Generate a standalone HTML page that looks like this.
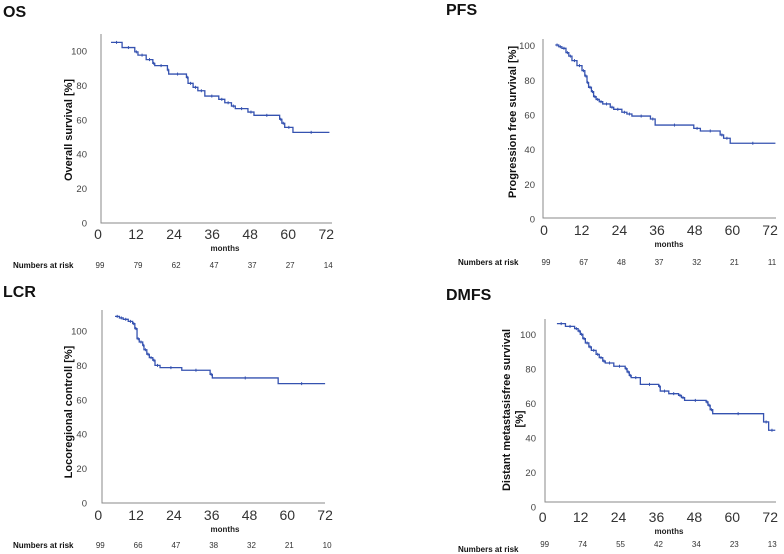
<!DOCTYPE html>
<html><head><meta charset="utf-8">
<style>
html,body{margin:0;padding:0;background:#fff;}
svg{display:block;font-family:"Liberation Sans",sans-serif;}
</style></head>
<body>
<svg id="fig" width="784" height="554" viewBox="0 0 784 554"></svg>
<script>
// ---- data (months, percent) ----
const xTicks = [0, 12, 24, 36, 48, 60, 72];
const yTicks = [0, 20, 40, 60, 80, 100];
const osMonths = [4.1, 7.6, 11.6, 12.6, 15.2, 17.3, 17.9, 21.9, 22.3, 27.9, 28.4, 30, 31.5, 33.7, 38.1, 40, 42.1, 43.3, 47.3, 49.2, 57.3, 58, 58.9, 61.5, 73];
const osValues = [105, 102, 99.5, 97.6, 95, 92.8, 91.5, 89, 86.6, 84.7, 81.2, 78.9, 76.9, 73.8, 71.9, 69.9, 68, 66.5, 64.5, 62.6, 60.3, 58, 55.6, 52.7, 52.7];
const osRisk = [99, 79, 62, 47, 37, 27, 14];
const pfsMonths = [3.6, 4.7, 5.7, 7.0, 7.9, 8.9, 10.5, 12.1, 13, 13.7, 14.2, 15.1, 15.8, 16.6, 17.6, 18.7, 21.1, 22.2, 24.8, 26.4, 28, 33.9, 35.4, 47.7, 49.8, 56.1, 57.2, 59.3, 73.7];
const pfsValues = [100.4, 99.4, 98.5, 96, 94, 91.4, 88.5, 85.6, 82.5, 78.7, 76, 73.5, 70.6, 69, 67.7, 66.4, 64.5, 63.3, 61.6, 60.6, 59.4, 57.7, 54.2, 52.3, 50.8, 48.5, 46.6, 43.7, 43.7];
const pfsRisk = [99, 67, 48, 37, 32, 21, 11];
const lcrMonths = [5.3, 6.7, 7.9, 9.5, 10.9, 11.6, 12.3, 13.0, 14.1, 14.5, 15.4, 16.2, 17.3, 18, 19.6, 26.5, 35.5, 36.2, 57.1, 72];
const lcrValues = [108.5, 107.6, 106.8, 105.6, 104.3, 101.4, 95.5, 93.6, 91.7, 89.1, 86.5, 84.5, 83, 80, 78.7, 77.2, 74.8, 72.7, 69.4, 69.4];
const lcrRisk = [99, 66, 47, 38, 32, 21, 10];
const dmfsMonths = [4.5, 7.2, 10.1, 11.2, 11.9, 12.7, 13.5, 14.6, 15.4, 16.9, 17.9, 19, 19.8, 22.5, 26.1, 26.7, 27.4, 28, 30.9, 36.7, 37.2, 39.9, 43, 43.9, 44.9, 51.7, 52.3, 53, 53.8, 69.9, 71.5, 73.6];
const dmfsValues = [106.3, 104.7, 103.4, 102, 100.1, 97.6, 95.1, 92.8, 90.8, 88.5, 86.6, 84.6, 83.5, 81.6, 80.2, 78.3, 76.3, 75, 71.1, 70, 67.2, 65.7, 64.7, 63.4, 61.8, 60.9, 59, 56.4, 54.1, 49.3, 44.5, 44.5];
const dmfsRisk = [99, 74, 55, 42, 34, 23, 13];

const NS = "http://www.w3.org/2000/svg";
const svg = document.getElementById("fig");
function mk(tag, attrs, parent, txt){
  const e = document.createElementNS(NS, tag);
  for (const k in attrs) e.setAttribute(k, attrs[k]);
  if (txt !== undefined) e.textContent = txt;
  (parent || svg).appendChild(e);
  return e;
}

function panel(cfg, months, values, risk){
  const g = mk("g", {});
  
  
  const X = m => cfg.x0 + m * cfg.xs;
  const Y = v => cfg.y0 - v * cfg.ys;

  const t = mk("text", {x: cfg.tx, y: cfg.ty, "font-size": 16, "font-weight": "bold", fill: "#111"}, g, cfg.title);
  
  

  const ax = mk("path", {d: `M${cfg.aL},${cfg.aT} L${cfg.aL},${cfg.aB} L${cfg.aR},${cfg.aB}`, fill: "none", stroke: "#8a8a8a", "stroke-width": 1}, g);
  
  

  yTicks.forEach(v => {
    const l = mk("text", {x: cfg.ylx, y: Y(v) + 3.5, "font-size": 9.5, "text-anchor": "end", fill: "#444"}, g, v);
    
    
  });
  xTicks.forEach(m => {
    const l = mk("text", {x: X(m), y: cfg.xly, "font-size": 14, "text-anchor": "middle", fill: "#333"}, g, m);
    
    
  });

  const mo = mk("text", {x: cfg.mx, y: cfg.my, "font-size": 8, "font-weight": "bold", "text-anchor": "middle", fill: "#222"}, g, "months");
  
  

  const yt = mk("text", {transform: `translate(${cfg.ytx},${cfg.yty}) rotate(-90)`, "font-size": 11, "font-weight": "bold", "text-anchor": "middle", fill: "#111"}, g, cfg.ytitle);
  
  
  if (cfg.ytitle2) {
    const yt2 = mk("text", {transform: `translate(${cfg.ytx2},${cfg.yty2}) rotate(-90)`, "font-size": 11, "font-weight": "bold", "text-anchor": "middle", fill: "#111"}, g, cfg.ytitle2);
    
    
  }

  const rl = mk("text", {x: cfg.rlx, y: cfg.rly, "font-size": 8, "font-weight": "bold", fill: "#111"}, g, "Numbers at risk");
  
  
  risk.forEach((n, i) => {
    const r = mk("text", {x: X(xTicks[i]) + 2, y: cfg.rny, "font-size": 8, "text-anchor": "middle", fill: "#333"}, g, n);
    
    
  });

  let d = `M${X(months[0])},${Y(values[0])}`;
  for (let i = 1; i < months.length; i++) {
    d += ` H${X(months[i])} V${Y(values[i])}`;
  }
  const line = mk("path", {d: d, fill: "none", stroke: "#3552b0", "stroke-width": 1.3}, g);
  
  
  for (let i = 0; i < months.length - 1; i++) {
    const mid = (months[i] + months[i + 1]) / 2;
    const c = mk("line", {x1: X(mid), x2: X(mid), y1: Y(values[i]) - 1.5, y2: Y(values[i]) + 1.5, stroke: "#3552b0", "stroke-width": 1}, g);
    
    
  }
}

panel({key: "os", title: "OS", tx: 3, ty: 17, x0: 98, xs: 3.17, y0: 223, ys: 1.72,
  aL: 101, aT: 34, aB: 223, aR: 332, ylx: 87, xly: 239, mx: 225, my: 251,
  ytx: 72, yty: 130, ytitle: "Overall survival [%]", rlx: 13, rly: 268, rny: 268},
  osMonths, osValues, osRisk);
panel({key: "pfs", title: "PFS", tx: 446, ty: 15, x0: 544, xs: 3.14, y0: 219, ys: 1.733,
  aL: 543, aT: 39, aB: 218, aR: 776, ylx: 535, xly: 235, mx: 669, my: 247,
  ytx: 516, yty: 122, ytitle: "Progression free survival [%]", rlx: 458, rly: 265, rny: 265},
  pfsMonths, pfsValues, pfsRisk);
panel({key: "lcr", title: "LCR", tx: 3, ty: 297, x0: 98.3, xs: 3.15, y0: 503, ys: 1.72,
  aL: 102, aT: 310, aB: 503, aR: 325, ylx: 87, xly: 520, mx: 225, my: 532,
  ytx: 72, yty: 412, ytitle: "Locoregional controll [%]", rlx: 13, rly: 548, rny: 548},
  lcrMonths, lcrValues, lcrRisk);
panel({key: "dmfs", title: "DMFS", tx: 446, ty: 300, x0: 542.7, xs: 3.16, y0: 507, ys: 1.725,
  aL: 545, aT: 319, aB: 502, aR: 776, ylx: 536, xly: 522, mx: 669, my: 534,
  ytx: 510, yty: 410, ytitle: "Distant metastasisfree survival", ytx2: 523, yty2: 419, ytitle2: "[%]",
  rlx: 458, rly: 552, rny: 547},
  dmfsMonths, dmfsValues, dmfsRisk);
</script>
</body></html>
